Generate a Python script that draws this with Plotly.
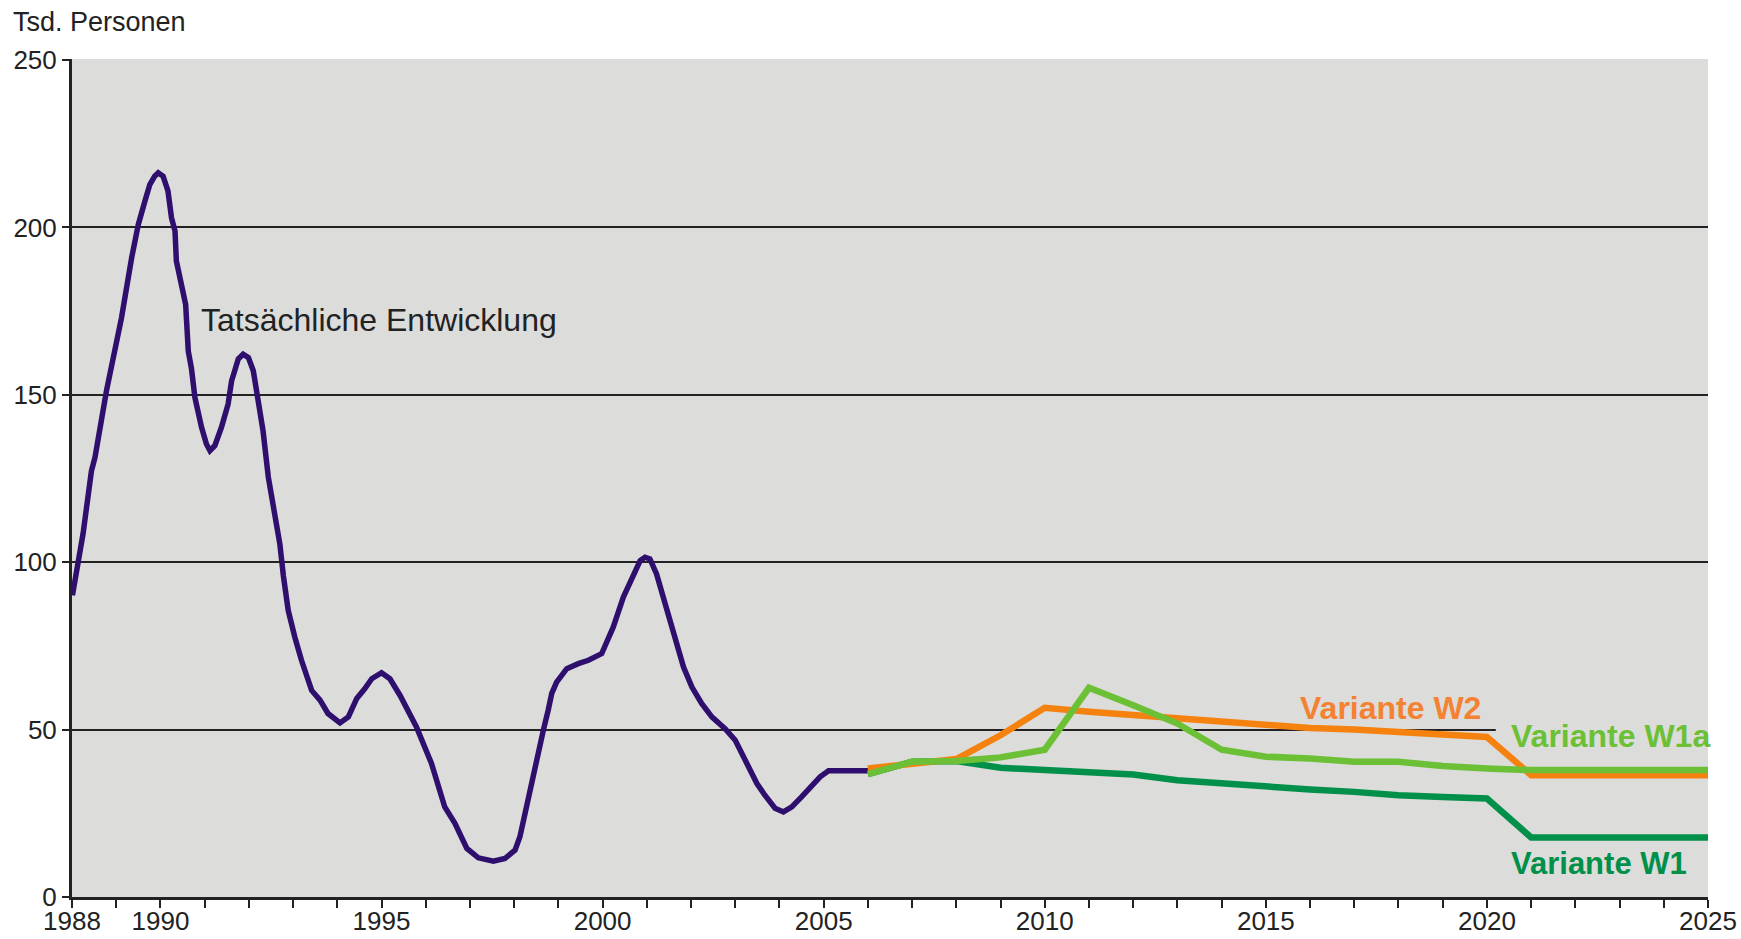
import plotly.graph_objects as go

# --- Data -------------------------------------------------------------
actual_years = [1988.01, 1988.14, 1988.25, 1988.44, 1988.52, 1988.78, 1989.12, 1989.35, 1989.50, 1989.65,
                1989.76, 1989.87, 1989.95, 1990.06, 1990.17, 1990.25, 1990.33, 1990.36, 1990.48, 1990.57,
                1990.63, 1990.70, 1990.78, 1990.85, 1990.93, 1991.04, 1991.12, 1991.23, 1991.38, 1991.53,
                1991.61, 1991.68, 1991.76, 1991.87, 1991.99, 1992.10, 1992.21, 1992.32, 1992.44, 1992.55,
                1992.70, 1992.78, 1992.89, 1993.04, 1993.19, 1993.42, 1993.61, 1993.79, 1994.06, 1994.25,
                1994.44, 1994.62, 1994.78, 1995.00, 1995.19, 1995.42, 1995.60, 1995.79, 1996.13, 1996.28,
                1996.43, 1996.66, 1996.81, 1996.93, 1997.19, 1997.53, 1997.79, 1998.02, 1998.13, 1998.24,
                1998.40, 1998.55, 1998.66, 1998.77, 1998.85, 1998.96, 1999.19, 1999.45, 1999.68, 1999.98,
                2000.24, 2000.47, 2000.69, 2000.85, 2000.96, 2001.07, 2001.22, 2001.37, 2001.52, 2001.68,
                2001.83, 2002.02, 2002.24, 2002.47, 2002.77, 2003.00, 2003.22, 2003.49, 2003.67, 2003.90,
                2004.09, 2004.28, 2004.50, 2004.73, 2004.92, 2005.11, 2006.00]
actual_values = [90.1, 100.5, 108.5, 127.3, 131.3, 151.2, 173.0, 191.0, 200.9, 207.9,
                 212.8, 215.3, 216.3, 215.3, 210.9, 202.9, 198.9, 190.0, 183.0, 177.0,
                 163.0, 158.0, 149.2, 144.3, 140.3, 135.3, 133.3, 134.8, 140.3, 147.2,
                 154.2, 157.2, 160.7, 162.1, 161.1, 157.2, 147.2, 139.3, 125.4, 116.4,
                 105.5, 96.0, 85.6, 77.6, 70.7, 61.7, 58.8, 54.8, 52.0, 53.8,
                 59.3, 62.2, 65.2, 67.0, 65.2, 60.2, 55.8, 50.8, 39.9, 33.9,
                 26.9, 22.0, 18.0, 14.5, 11.7, 10.7, 11.5, 14.0, 18.0, 25.0,
                 33.9, 42.9, 49.8, 55.8, 60.8, 64.2, 68.2, 69.7, 70.7, 72.7,
                 80.6, 89.6, 96.5, 100.5, 101.5, 101.0, 96.5, 89.6, 82.6, 75.7,
                 68.7, 62.7, 57.8, 53.8, 50.3, 46.8, 40.9, 33.9, 30.4, 26.5,
                 25.4, 26.9, 29.9, 32.9, 35.9, 37.7, 37.7]

forecast_years = list(range(2006, 2026))
w2_values = [38.4, 39.7, 41.2, 48.3, 56.5, 55.3, 54.3, 53.3, 52.3, 51.3,
             50.5, 50.0, 49.3, 48.7, 47.8, 36.4, 36.4, 36.4, 36.4, 36.4]
w1a_values = [36.7, 40.4, 40.6, 41.7, 44.0, 62.5, 57.3, 51.8, 44.0, 41.9,
              41.4, 40.4, 40.4, 39.1, 38.4, 37.9, 37.9, 37.9, 37.9, 37.9]
w1_values = [36.7, 40.4, 40.6, 38.6, 37.9, 37.2, 36.6, 34.9, 33.9, 33.1,
             32.1, 31.4, 30.4, 29.9, 29.4, 17.8, 17.8, 17.8, 17.8, 17.8]

tick_years = list(range(1988, 2026))
tick_labels = [str(y) if y in (1988, 1990, 1995, 2000, 2005, 2010, 2015, 2020, 2025) else "" for y in tick_years]
y_ticks = [0, 50, 100, 150, 200, 250]

# --- Styles -------------------------------------------------------------
BG = "#DCDCDA"
INK = "#222222"
PURPLE = "#2E0F6E"
ORANGE = "#F5820F"
LGREEN = "#6CC035"
DGREEN = "#00904A"
FONT = "Liberation Sans, Arial, sans-serif"

fig = go.Figure()
fig.add_trace(go.Scatter(x=actual_years, y=actual_values, mode="lines",
                         line=dict(color=PURPLE, width=5.5), hoverinfo="skip"))
fig.add_trace(go.Scatter(x=forecast_years, y=w1_values, mode="lines",
                         line=dict(color=DGREEN, width=6.5), hoverinfo="skip"))
fig.add_trace(go.Scatter(x=forecast_years, y=w2_values, mode="lines",
                         line=dict(color=ORANGE, width=6.5), hoverinfo="skip"))
fig.add_trace(go.Scatter(x=forecast_years, y=w1a_values, mode="lines",
                         line=dict(color=LGREEN, width=6.5), hoverinfo="skip"))

# label box covering the 50-gridline behind "Variante W1a"
fig.add_shape(type="rect", xref="x", yref="y", x0=2020.2, x1=2025, y0=49.2, y1=50.8,
              fillcolor=BG, line=dict(width=0), layer="between")

fig.add_annotation(x=1990.88, y=172.2, xref="x", yref="y", text="Tatsächliche Entwicklung",
                   showarrow=False, xanchor="left", yanchor="middle",
                   font=dict(family=FONT, size=32, color=INK))
fig.add_annotation(x=2015.72, y=56.4, xref="x", yref="y", text="<b>Variante W2</b>",
                   showarrow=False, xanchor="left", yanchor="middle",
                   font=dict(family=FONT, size=32, color="#F58233"))
fig.add_annotation(x=2020.49, y=48.0, xref="x", yref="y", text="<b>Variante W1a</b>",
                   showarrow=False, xanchor="left", yanchor="middle",
                   font=dict(family=FONT, size=32, color=LGREEN))
fig.add_annotation(x=2020.49, y=9.9, xref="x", yref="y", text="<b>Variante W1</b>",
                   showarrow=False, xanchor="left", yanchor="middle",
                   font=dict(family=FONT, size=31, color=DGREEN))
fig.add_annotation(x=-0.0375, y=1.044, xref="paper", yref="paper", text="Tsd. Personen",
                   showarrow=False, xanchor="left", yanchor="middle",
                   font=dict(family=FONT, size=27, color=INK))

fig.update_layout(
    width=1741, height=939, autosize=False,
    margin=dict(l=72, r=33, t=59, b=42, autoexpand=False),
    paper_bgcolor="white", plot_bgcolor=BG,
    showlegend=False,
    font=dict(family=FONT, size=26, color=INK),
    xaxis=dict(range=[1988, 2025], tickmode="array", tickvals=tick_years, ticktext=tick_labels,
               showgrid=False, zeroline=False, showline=True, linecolor=INK, linewidth=3,
               ticks="outside", ticklen=8, tickwidth=2, tickcolor=INK, ticklabelstandoff=-9,
               automargin=False,
               tickfont=dict(family=FONT, size=26, color=INK)),
    yaxis=dict(range=[0, 250.3], tickmode="array", tickvals=y_ticks,
               showgrid=True, gridcolor=INK, gridwidth=2, zeroline=False,
               showline=True, linecolor=INK, linewidth=3, automargin=False,
               ticks="outside", ticklen=7, tickwidth=2, tickcolor=INK,
               tickfont=dict(family=FONT, size=26, color=INK)),
)

fig.write_html("out.html", config={"displayModeBar": False},
               post_script="document.body.style.margin='0';document.body.style.overflow='hidden';")
